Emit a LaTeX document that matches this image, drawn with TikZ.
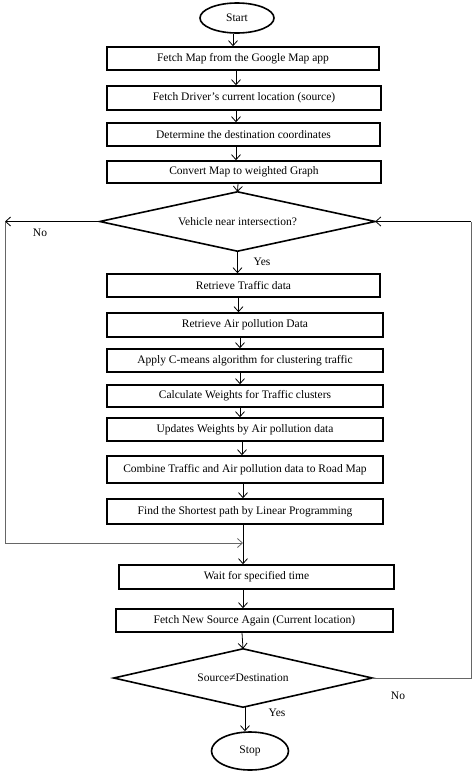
\documentclass[tikz,border=0pt]{standalone}
\usepackage{fontspec}
\setmainfont{Liberation Serif}
\usetikzlibrary{shapes.geometric,arrows.meta}
\begin{document}
\begin{tikzpicture}[x=1pt,y=-1pt,
  box/.style={draw,line width=1.6pt,rectangle,inner sep=0pt,font=\fontsize{11.5}{13}\selectfont},
  term/.style={draw,line width=1.6pt,ellipse,inner sep=0pt,font=\fontsize{11.5}{13}\selectfont},
  dec/.style={rectangle,inner sep=0pt,font=\fontsize{11.5}{13}\selectfont},
  decline/.style={draw,line width=1.6pt,line join=miter},
  arr/.style={line width=0.8pt,-{Straight Barb[length=5pt,width=9pt,line width=0.8pt]}},
  loopline/.style={line width=0.8pt,draw=black!60},
  lbl/.style={font=\fontsize{11.5}{13}\selectfont,inner sep=0pt}]
\useasboundingbox (0,0) rectangle (474,772);
\node[term,minimum width=74pt,minimum height=30pt] (start) at (237,18) {Start};
\node[box,minimum width=272pt,minimum height=23pt] (b1) at (243,58.5) {Fetch Map from the Google Map app};
\node[box,minimum width=274pt,minimum height=24pt] (b2) at (244,98) {Fetch Driver's current location (source)};
\node[box,minimum width=273pt,minimum height=23pt] (b3) at (243.5,134.5) {Determine the destination coordinates};
\node[box,minimum width=274pt,minimum height=22pt] (b4) at (244,172) {Convert Map to weighted Graph};
\node[dec,minimum width=275pt,minimum height=59pt] (d1) at (237.5,221.5) {Vehicle near intersection?};
\draw[decline] (d1.north) -- (d1.east) -- (d1.south) -- (d1.west) -- cycle;
\node[box,minimum width=273pt,minimum height=23pt] (b5) at (243.5,285.5) {Retrieve Traffic data};
\node[box,minimum width=276pt,minimum height=24pt] (b6) at (245,325) {Retrieve Air pollution Data};
\node[box,minimum width=276pt,minimum height=23pt] (b7) at (245,360.5) {Apply C-means algorithm for clustering traffic};
\node[box,minimum width=276pt,minimum height=22pt] (b8) at (245,396) {Calculate Weights for Traffic clusters};
\node[box,minimum width=276pt,minimum height=23pt] (b9) at (245,429.5) {Updates Weights by Air pollution data};
\node[box,minimum width=276pt,minimum height=27pt] (b10) at (245,469.5) {Combine Traffic and Air pollution data to Road Map};
\node[box,minimum width=276pt,minimum height=25pt] (b11) at (245,511.5) {Find the Shortest path by Linear Programming};
\coordinate (j) at (243,543);
\node[box,minimum width=275pt,minimum height=24pt] (b12) at (256.5,577) {Wait for specified time};
\node[box,minimum width=277pt,minimum height=23pt] (b13) at (254.5,620.5) {Fetch New Source Again (Current location)};
\node[dec,minimum width=258pt,minimum height=58pt] (d2) at (243,678) {Source≠Destination};
\draw[decline] (d2.north) -- (d2.east) -- (d2.south) -- (d2.west) -- cycle;
\node[term,minimum width=77pt,minimum height=38pt] (stop) at (250,751) {Stop};
\coordinate (lw) at (5,221.5);
\coordinate (lb) at (5,543);
\coordinate (rb) at (471,678);
\coordinate (rt) at (471,221.5);
% main arrows
\draw[arr] ([xshift=-4pt]start.south) -- ([xshift=-4pt]start.south |- b1.north);
\draw[arr] ([xshift=-7pt]b1.south) -- ([xshift=-7pt]b1.south |- b2.north);
\draw[arr] ([xshift=-8pt]b2.south) -- ([xshift=-8pt]b2.south |- b3.north);
\draw[arr] ([xshift=-7.5pt]b3.south) -- ([xshift=-7.5pt]b3.south |- b4.north);
\draw[arr] ([xshift=-6pt]b4.south) -- (d1.north);
\draw[arr] (d1.south) -- (d1.south |- b5.north);
\draw[arr] ([xshift=-5pt]b5.south) -- ([xshift=-5pt]b5.south |- b6.north);
\draw[arr] ([xshift=-5pt]b6.south) -- ([xshift=-5pt]b6.south |- b7.north);
\draw[arr] ([xshift=-5pt]b7.south) -- ([xshift=-5pt]b7.south |- b8.north);
\draw[arr] ([xshift=-5pt]b8.south) -- ([xshift=-5pt]b8.south |- b9.north);
\draw[arr] ([xshift=-3pt]b9.south) -- ([xshift=-3pt]b9.south |- b10.north);
\draw[arr] ([xshift=-2pt]b10.south) -- ([xshift=-2pt]b10.south |- b11.north);
\draw[arr] ([xshift=-2pt]b11.south) -- ([xshift=-2pt]b11.south |- b12.north);
\draw[arr] ([xshift=-13.5pt]b12.south) -- ([xshift=-13.5pt]b12.south |- b13.north);
\draw[arr] ([xshift=-12.5pt]b13.south) -- (d2.north);
\draw[arr] ([xshift=2pt]d2.south) -- ([xshift=2pt]d2.south |- stop.north);
% loops
\draw[arr] (d1.west) -- (lw);
\draw[loopline] (lw) -- (lb);
\draw[arr,draw=black!60] (lb) -- (j);
\draw[loopline] (d2.east) -- (rb) -- (rt);
\draw[arr] (rt) -- (d1.east);
% labels
\node[lbl] (no1) at (40,233) {No};
\node[lbl] (yes1) at (262,262) {Yes};
\node[lbl] (no2) at (398,696) {No};
\node[lbl] (yes2) at (277,713) {Yes};
\end{tikzpicture}
\end{document}
